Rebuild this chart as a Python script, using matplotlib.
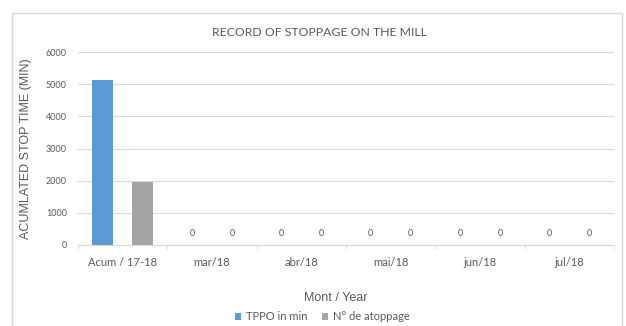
import numpy as np
import matplotlib
matplotlib.use("Agg")
import matplotlib.pyplot as plt
from matplotlib.patches import Rectangle

categories = ['Acum / 17-18', 'mar/18', 'abr/18', 'mai/18', 'jun/18', 'jul/18']
tppo = [5130, 0, 0, 0, 0, 0]
n_stop = [1960, 0, 0, 0, 0, 0]

blue = '#5B9BD5'
gray = '#A5A5A5'
txt = '#595959'
cal = 'Lato'

fig = plt.figure(figsize=(6.26, 3.26), dpi=100)
fig.patches.append(Rectangle((12 / 626, -0.1), 610 / 626, 1.1 - 13 / 326,
                             transform=fig.transFigure, fill=False,
                             edgecolor='#D9D9D9', linewidth=1))
ax = fig.add_axes([78 / 626, 1 - 245 / 326, 536 / 626, 193 / 326])

x = np.arange(len(categories))
w = 0.235
off = 0.225
b1 = ax.bar(x - off, tppo, w, color=blue, label='TPPO in min')
b2 = ax.bar(x + off, n_stop, w, color=gray, label='N° de atoppage')

for xs, vals in ((x - off, tppo), (x + off, n_stop)):
    for xi, v in zip(xs, vals):
        if v == 0:
            ax.text(xi, 220, '0', ha='center', va='bottom', fontsize=6.5,
                    color=txt, family=cal)

ax.set_xlim(-0.5, len(categories) - 0.5)
ax.set_ylim(0, 6000)
ax.set_yticks(range(0, 6001, 1000))
ax.yaxis.grid(True, color='#D9D9D9', linewidth=0.8)
ax.set_axisbelow(True)
for s in ('left', 'right', 'top'):
    ax.spines[s].set_visible(False)
ax.spines['bottom'].set_color('#D9D9D9')
ax.set_xticks(x)
ax.set_xticklabels(categories, fontsize=8, color=txt, family=cal)
ax.set_xticks(np.arange(-0.5, len(categories)), minor=True)
ax.tick_params(axis='x', which='major', length=0, pad=9)
ax.tick_params(axis='x', which='minor', length=3, color='#D9D9D9')
ax.tick_params(axis='y', length=0, labelsize=6.5, labelcolor=txt, pad=8)
for t in ax.get_yticklabels():
    t.set_family(cal)

ax.set_ylabel('ACUMLATED STOP TIME (MIN)', fontsize=9, color=txt,
              family='Liberation Sans', labelpad=10)
ax.set_xlabel('Mont / Year', fontsize=9, color=txt, family='Liberation Sans')
ax.xaxis.set_label_coords(0.48, -47 / 193)
fig.text(319 / 626, 1 - 32 / 326, 'RECORD OF STOPPAGE ON THE MILL',
         ha='center', va='center', fontsize=8.8, color=txt, family=cal)

leg = fig.legend(handles=[b1, b2], loc='center', bbox_to_anchor=(322 / 626, 1 - 317 / 326),
                 ncol=2, frameon=False, fontsize=8, handlelength=0.6,
                 handleheight=0.6, handletextpad=0.4, columnspacing=1.3,
                 borderpad=0)
for t in leg.get_texts():
    t.set_color(txt)
    t.set_family(cal)

fig.savefig('out.png', dpi=100)
